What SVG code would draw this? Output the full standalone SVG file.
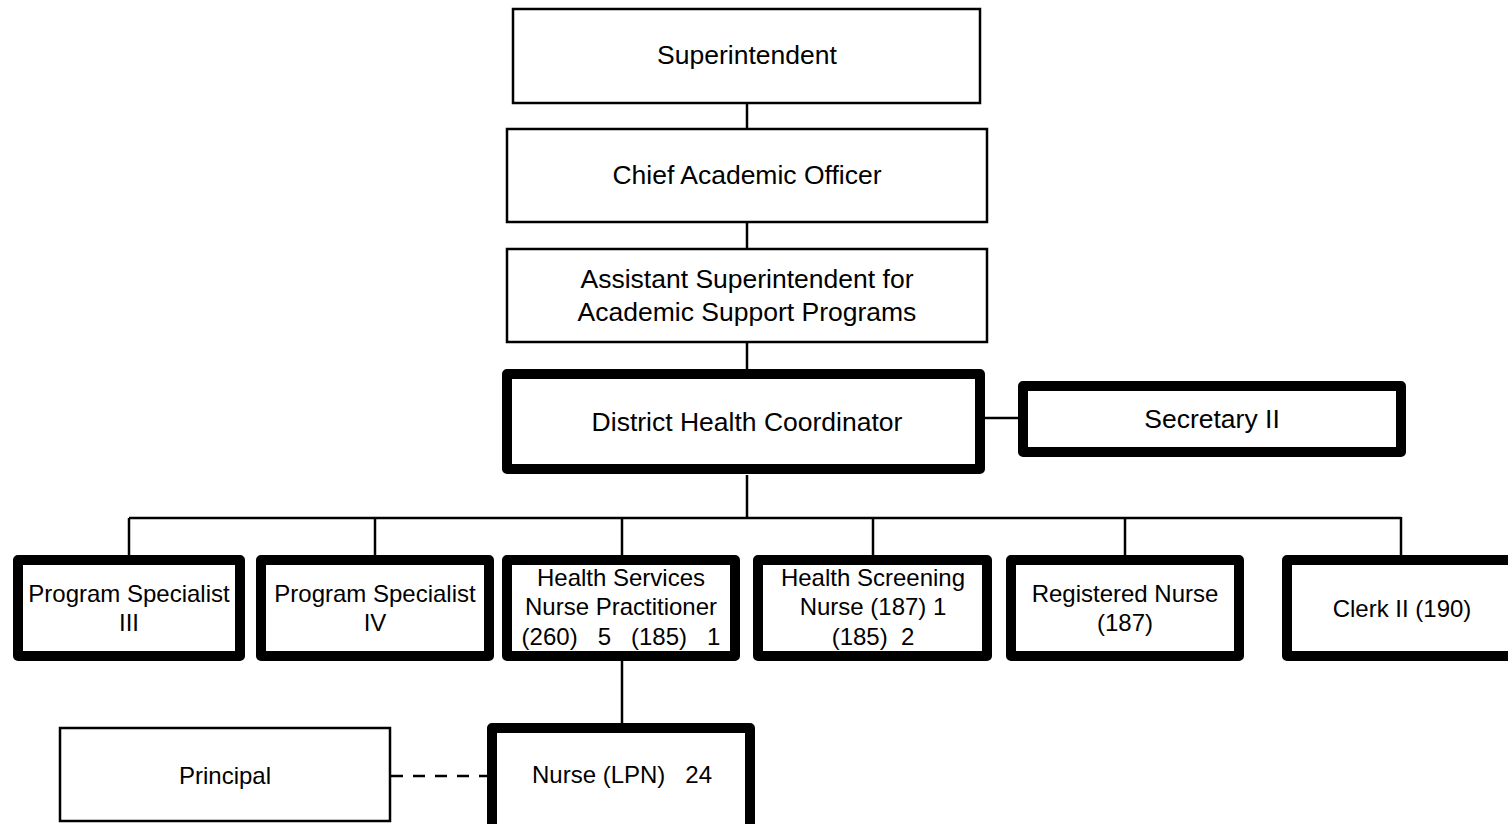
<svg xmlns="http://www.w3.org/2000/svg" width="1508" height="824" viewBox="0 0 1508 824">
<style>
  .thin { fill: #fff; stroke: #000; stroke-width: 2.5; }
  .thick { fill: #fff; stroke: #000; stroke-width: 10; stroke-linejoin: round; }
  .t { font-family: "Liberation Sans", Arial, sans-serif; font-size: 24px; fill: #000; text-anchor: middle; white-space: pre; }
  .big { font-size: 26.5px; }
  .conn { stroke: #000; stroke-width: 2.5; fill: none; }
</style>
<rect width="1508" height="824" fill="#fff"/>
<g id="connectors">
  <line class="conn" x1="747" y1="104" x2="747" y2="128"/>
  <line class="conn" x1="747" y1="223" x2="747" y2="248"/>
  <line class="conn" x1="747" y1="343" x2="747" y2="369"/>
  <line class="conn" x1="747" y1="475" x2="747" y2="518"/>
  <line class="conn" x1="985" y1="418" x2="1018" y2="418"/>
  <polyline class="conn" points="129,518 1401,518"/>
  <line class="conn" x1="129" y1="518" x2="129" y2="555"/>
  <line class="conn" x1="375" y1="518" x2="375" y2="555"/>
  <line class="conn" x1="622" y1="518" x2="622" y2="555"/>
  <line class="conn" x1="873" y1="518" x2="873" y2="555"/>
  <line class="conn" x1="1125" y1="518" x2="1125" y2="555"/>
  <line class="conn" x1="1401" y1="517" x2="1401" y2="555" stroke-width="3.5"/>
  <line class="conn" x1="622" y1="661" x2="622" y2="723"/>
  <line class="conn" x1="391" y1="776" x2="487" y2="776" stroke-dasharray="12 10"/>
</g>
<g id="superintendent">
  <rect class="thin" x="513" y="9" width="467" height="94"/>
  <text class="t big" x="747" y="64">Superintendent</text>
</g>
<g id="chief-academic-officer">
  <rect class="thin" x="507" y="129" width="480" height="93"/>
  <text class="t big" x="747" y="184">Chief Academic Officer</text>
</g>
<g id="assistant-superintendent">
  <rect class="thin" x="507" y="249" width="480" height="93"/>
  <text class="t big" x="747" y="288">Assistant Superintendent for</text>
  <text class="t big" x="747" y="321">Academic Support Programs</text>
</g>
<g id="district-health-coordinator">
  <rect class="thick" x="507" y="374" width="473" height="95"/>
  <text class="t big" x="747" y="431">District Health Coordinator</text>
</g>
<g id="secretary-ii">
  <rect class="thick" x="1023" y="386" width="378" height="66"/>
  <text class="t big" x="1212" y="428">Secretary II</text>
</g>
<g id="program-specialist-iii">
  <rect class="thick" x="18" y="560" width="222" height="96"/>
  <text class="t" x="129" y="602">Program Specialist</text>
  <text class="t" x="129" y="631">III</text>
</g>
<g id="program-specialist-iv">
  <rect class="thick" x="261" y="560" width="228" height="96"/>
  <text class="t" x="375" y="602">Program Specialist</text>
  <text class="t" x="375" y="631">IV</text>
</g>
<g id="health-services-np">
  <rect class="thick" x="507" y="560" width="228" height="96"/>
  <text class="t" x="621" y="586">Health Services</text>
  <text class="t" x="621" y="615">Nurse Practitioner</text>
  <text class="t" x="621" y="645">(260)   5   (185)   1</text>
</g>
<g id="health-screening-nurse">
  <rect class="thick" x="758" y="560" width="229" height="96"/>
  <text class="t" x="873" y="586">Health Screening</text>
  <text class="t" x="873" y="615">Nurse (187) 1</text>
  <text class="t" x="873" y="645">(185)  2</text>
</g>
<g id="registered-nurse">
  <rect class="thick" x="1011" y="560" width="228" height="96"/>
  <text class="t" x="1125" y="602">Registered Nurse</text>
  <text class="t" x="1125" y="631">(187)</text>
</g>
<g id="clerk-ii">
  <rect class="thick" x="1287" y="560" width="230" height="96"/>
  <text class="t" x="1402" y="617">Clerk II (190)</text>
</g>
<g id="principal">
  <rect class="thin" x="60" y="728" width="330" height="93"/>
  <text class="t" x="225" y="784">Principal</text>
</g>
<g id="nurse-lpn">
  <rect class="thick" x="492" y="728" width="258" height="110"/>
  <text class="t" x="622" y="783">Nurse (LPN)   24</text>
</g>
</svg>
